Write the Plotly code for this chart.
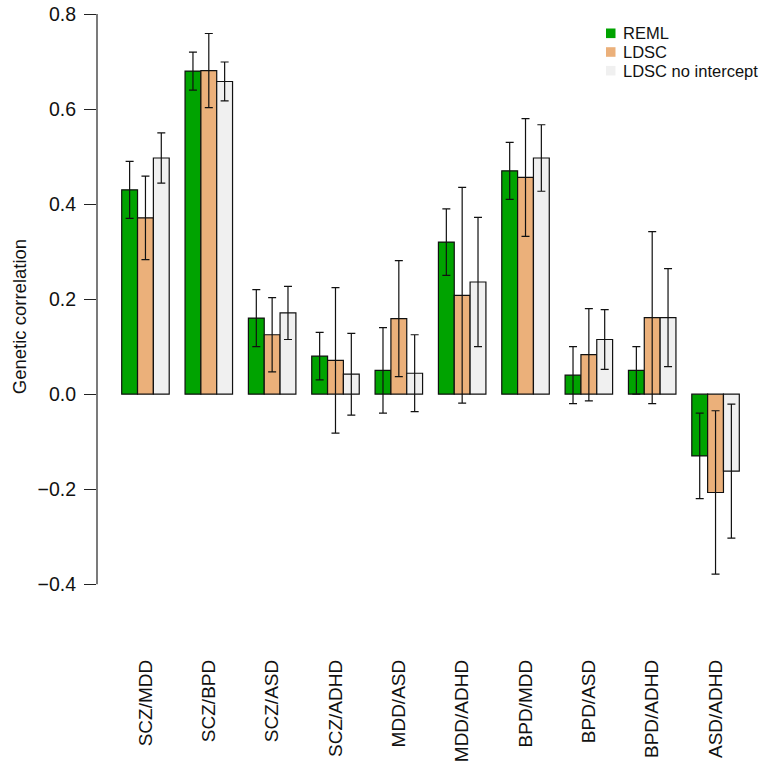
import plotly.graph_objects as go

categories = ["SCZ/MDD", "SCZ/BPD", "SCZ/ASD", "SCZ/ADHD", "MDD/ASD",
              "MDD/ADHD", "BPD/MDD", "BPD/ASD", "BPD/ADHD", "ASD/ADHD"]
reml = [0.43, 0.68, 0.16, 0.08, 0.05, 0.32, 0.47, 0.04, 0.05, -0.13]
reml_se = [0.06, 0.04, 0.06, 0.05, 0.09, 0.07, 0.06, 0.06, 0.05, 0.09]
ldsc = [0.371, 0.681, 0.125, 0.071, 0.159, 0.208, 0.456, 0.083, 0.161, -0.207]
ldsc_se = [0.088, 0.078, 0.078, 0.153, 0.122, 0.227, 0.124, 0.097, 0.181, 0.172]
ldsc_ni = [0.497, 0.658, 0.171, 0.042, 0.044, 0.236, 0.497, 0.115, 0.161, -0.162]
ldsc_ni_se = [0.053, 0.041, 0.056, 0.086, 0.081, 0.136, 0.070, 0.063, 0.103, 0.141]
series_names = ["REML", "LDSC", "LDSC no intercept"]
y_ticks = [-0.4, -0.2, 0.0, 0.2, 0.4, 0.6, 0.8]

colors = ["#00A300", "#EBB07A", "#F0F0F0"]
FONT = "Liberation Sans, Arial, sans-serif"

# plot-area geometry in pixels (used for legend / title placement)
PL, PW, PT, PH = 97, 667, 0, 607


def px_x(x):
    return (x - PL) / PW


def px_y(y):
    return 1 - (y - PT) / PH


fig = go.Figure()
for name, vals, errs, col in zip(series_names, [reml, ldsc, ldsc_ni],
                                 [reml_se, ldsc_se, ldsc_ni_se], colors):
    fig.add_trace(go.Bar(
        x=categories, y=vals, name=name, showlegend=False,
        marker=dict(color=col, line=dict(color="#111111", width=1.2)),
        error_y=dict(type="data", array=errs, visible=True,
                     color="#111111", thickness=1.2, width=4),
    ))

# manual legend (compact, like the reference)
legend_rows = [33.3, 52.0, 70.7]
for name, col, yc in zip(series_names, colors, legend_rows):
    fig.add_shape(type="rect", xref="paper", yref="paper",
                  x0=px_x(606), x1=px_x(615.5), y0=px_y(yc + 4.8), y1=px_y(yc - 4.8),
                  fillcolor=col, line=dict(width=0))
    fig.add_annotation(text=name, xref="paper", yref="paper", x=px_x(621), y=px_y(yc),
                       xanchor="left", yanchor="middle", showarrow=False,
                       font=dict(family=FONT, size=16.5, color="#111111"))

# y axis line spanning only the tick range (as in base R)
fig.add_shape(type="line", xref="paper", yref="y", x0=0, x1=0,
              y0=y_ticks[0], y1=y_ticks[-1], line=dict(color="#222222", width=1.2))

fig.add_annotation(text="Genetic correlation", textangle=-90, xref="paper", yref="y",
                   x=px_x(19), y=0.162, xanchor="center", yanchor="middle",
                   showarrow=False, font=dict(family=FONT, size=18.5, color="#111111"))

fig.update_layout(
    width=764, height=769,
    margin=dict(l=PL, r=764 - PL - PW, t=PT, b=769 - PT - PH),
    paper_bgcolor="white", plot_bgcolor="white",
    barmode="group", bargap=0.25, bargroupgap=0,
    showlegend=False,
    font=dict(family=FONT, size=19, color="#111111"),
    xaxis=dict(range=[-0.765, 9.765], showgrid=False, showline=False, zeroline=False,
               ticks="", tickangle=-90, ticklabelstandoff=48,
               tickfont=dict(size=19)),
    yaxis=dict(range=[-0.448, 0.8295], showgrid=False, zeroline=False, showline=False,
               tickvals=y_ticks, tickformat=".1f", ticks="outside", ticklen=12,
               tickwidth=1.2, tickcolor="#222222", ticklabelstandoff=4,
               tickfont=dict(size=19.5)),
)

fig.write_html("out.html", config={"displayModeBar": False},
               post_script="document.body.style.margin='0px';")
